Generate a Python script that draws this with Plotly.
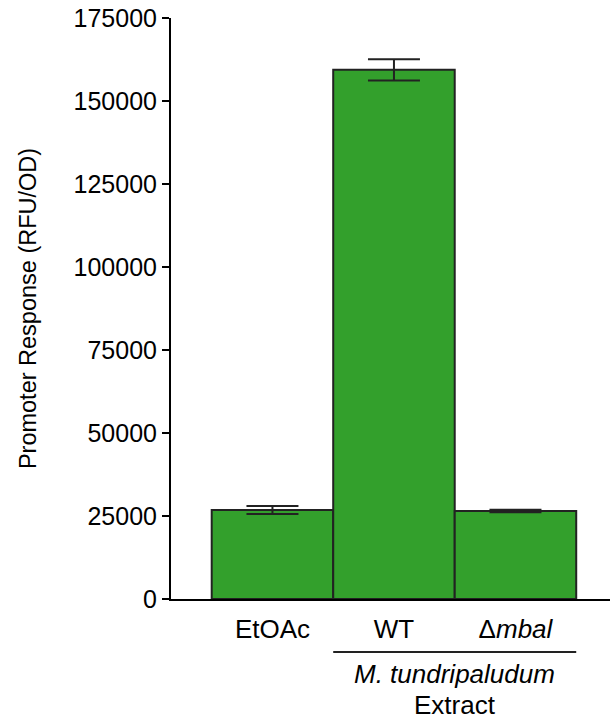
import plotly.graph_objects as go

categories = ["EtOAc", "WT", "Δmbal"]
category_labels = ["EtOAc", "WT", "Δ<i>mbal</i>"]
values = [26800, 159400, 26500]
errors = [1200, 3200, 400]
y_ticks = [0, 25000, 50000, 75000, 100000, 125000, 150000, 175000]
y_tick_labels = [str(v) for v in y_ticks]
group_label = ["<i>M. tundripaludum</i>", "Extract"]

FONT = "Liberation Sans, Arial, sans-serif"

fig = go.Figure()
fig.add_trace(go.Bar(
    x=list(range(len(categories))),
    y=values,
    width=1.0,
    marker=dict(color="#33a02c", line=dict(color="#222222", width=2)),
    error_y=dict(type="data", array=errors, visible=True,
                 color="#222222", thickness=2, width=26),
))

fig.update_layout(
    width=610, height=721,
    margin=dict(l=171, r=0, t=18, b=122),
    paper_bgcolor="white", plot_bgcolor="white",
    showlegend=False,
    font=dict(family=FONT, size=25, color="black"),
    xaxis=dict(
        range=[-0.835, 2.778],
        tickvals=list(range(len(categories))),
        ticktext=category_labels,
        ticks="", showline=True, linecolor="black", linewidth=2,
        showgrid=False, zeroline=False, automargin=False,
        tickfont=dict(size=26),
        ticklabelstandoff=6,
    ),
    yaxis=dict(
        range=[0, 175000],
        tickvals=y_ticks, ticktext=y_tick_labels,
        ticks="outside", ticklen=7, tickwidth=2, tickcolor="black",
        showline=True, linecolor="black", linewidth=2,
        showgrid=False, zeroline=False, automargin=False,
        tickfont=dict(size=25),
        title=dict(text="Promoter Response (RFU/OD)", font=dict(size=23.5), standoff=30),
    ),
)

fig.add_shape(type="line", xref="x", yref="paper",
              x0=0.5, x1=2.5, y0=-0.0912, y1=-0.0912,
              line=dict(color="#222222", width=2))
fig.add_annotation(text=group_label[0], xref="x", yref="paper",
                   x=1.5, y=-0.1283, showarrow=False, yanchor="middle",
                   font=dict(size=26))
fig.add_annotation(text=group_label[1], xref="x", yref="paper",
                   x=1.5, y=-0.1824, showarrow=False, yanchor="middle",
                   font=dict(size=26))

# remove the page's default 8px body margin so the figure sits at the window origin
fig.write_html("out.html", config={"displayModeBar": False},
               post_script="document.body.style.margin='0px';")
